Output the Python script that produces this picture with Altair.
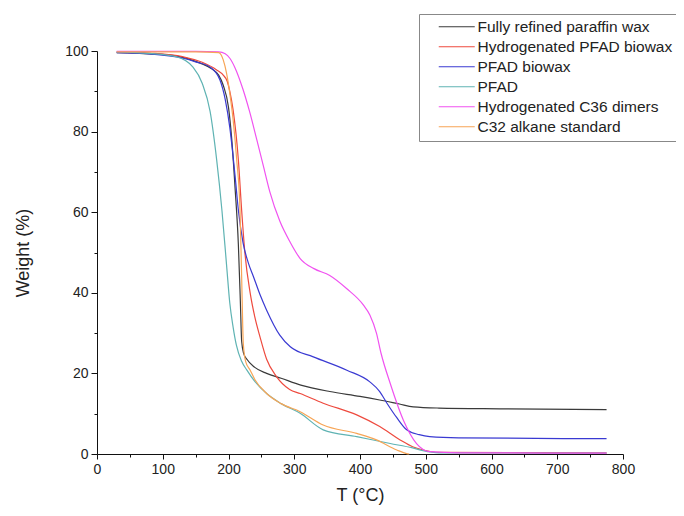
import altair as alt
import pandas as pd

series_names = [
    "Fully refined paraffin wax",
    "Hydrogenated PFAD biowax",
    "PFAD biowax",
    "PFAD",
    "Hydrogenated C36 dimers",
    "C32 alkane standard",
]
series_colors = ["#3a3a3a", "#ee4a3e", "#3a3ad2", "#5fb3b3", "#f052f0", "#f7a556"]

paraffin_T = [30, 80, 120, 157, 175, 185, 192, 200, 205, 210, 215, 218, 220, 223, 228, 240, 258, 280, 310, 354, 400, 430, 460, 481, 520, 613, 775]
paraffin_W = [99.6, 99.3, 98.8, 97, 95.5, 94, 91.5, 86, 78, 66, 52, 38, 28, 25, 23.5, 21.5, 20, 18.8, 17.1, 15.5, 14.3, 13.4, 12.4, 11.7, 11.4, 11.2, 11.0]

hpfad_T = [30, 80, 130, 160, 182, 192, 198, 202, 207, 215, 220, 225, 233, 240, 248, 258, 273, 293, 309, 344, 395, 430, 461, 480, 496, 520, 775]
hpfad_W = [99.8, 99.5, 98.6, 97.2, 95.3, 94, 92.5, 90, 85.4, 73, 60.5, 49.8, 39.9, 34, 29, 23.5, 19.2, 16, 15, 12.6, 9.7, 6.8, 3.5, 1.8, 1, 0.4, 0.3]

biowax_T = [30, 80, 131, 150, 172, 187, 195, 202, 210, 215, 222, 230, 238, 248, 258, 278, 294, 329, 380, 415, 430, 441, 456, 471, 490, 506, 550, 775]
biowax_W = [99.6, 99.3, 98.2, 97.3, 96, 92.8, 88, 81, 69, 60.5, 52.5, 47.5, 44, 39.5, 35.7, 29.5, 26.6, 24.1, 20.8, 17.9, 15.5, 12.6, 9, 6, 4.8, 4.3, 4, 3.8]

pfad_T = [30, 80, 120, 146, 160, 172, 182, 190, 197, 202, 207, 212, 220, 228, 240, 258, 280, 309, 344, 395, 446, 480, 496, 520, 775]
pfad_W = [99.8, 99.4, 98.6, 96, 92, 85, 73, 60.5, 47, 37.4, 31.5, 27, 23, 20.8, 18, 15, 12.5, 10.1, 6, 4.3, 2.6, 1.5, 0.8, 0.3, 0.2]

c36_T = [30, 100, 150, 185, 195, 202, 210, 222, 232, 243, 253, 263, 278, 294, 309, 330, 354, 380, 405, 415, 425, 432, 446, 466, 486, 506, 550, 775]
c36_W = [99.9, 99.9, 99.9, 99.8, 99.3, 98.2, 95.8, 90.5, 85, 78, 71.5, 65, 57.8, 52.5, 48.5, 46, 44.3, 41, 37, 34.5, 30, 25, 17.5, 8.4, 2.6, 0.6, 0.3, 0.2]

c32_T = [30, 100, 150, 185, 192, 197, 202, 207, 212.5, 217.5, 220, 222.5, 226, 233, 240, 258, 280, 309, 344, 395, 425, 456, 471, 475]
c32_W = [99.8, 99.8, 99.8, 99.6, 97.8, 94.5, 89.5, 83, 73, 60.5, 44, 27.5, 23, 20.8, 18.5, 15, 12.5, 10.5, 7.2, 5.1, 3.5, 1, 0.1, 0]

all_T = [paraffin_T, hpfad_T, biowax_T, pfad_T, c36_T, c32_T]
all_W = [paraffin_W, hpfad_W, biowax_W, pfad_W, c36_W, c32_W]

rows = []
for i, (name, ts, ws) in enumerate(zip(series_names, all_T, all_W)):
    for t, w in zip(ts, ws):
        rows.append({"series": name, "order": i, "T": t, "W": w})
df = pd.DataFrame(rows)

FONT = "Liberation Sans"

chart = alt.Chart(df).mark_line(strokeWidth=1.2, interpolate="monotone").encode(
    x=alt.X(
        "T:Q",
        scale=alt.Scale(domain=[0, 800], nice=False, zero=False),
        axis=alt.Axis(
            values=list(range(0, 801, 50)),
            labelExpr="datum.value % 100 === 0 ? datum.label : ''",
            tickSize={"condition": {"test": "datum.value % 100 === 0", "value": 5}, "value": 3},
            title="T (°C)",
            grid=False,
            labelFlush=False,
            labelPadding=3,
            titlePadding=10,
        ),
    ),
    y=alt.Y(
        "W:Q",
        scale=alt.Scale(domain=[0, 100], nice=False),
        axis=alt.Axis(
            values=list(range(0, 101, 10)),
            labelExpr="datum.value % 20 === 0 ? datum.label : ''",
            tickSize={"condition": {"test": "datum.value % 20 === 0", "value": 6}, "value": 3},
            title="Weight (%)",
            grid=False,
            labelFlush=False,
            labelPadding=3,
            titlePadding=32,
        ),
    ),
    color=alt.Color(
        "series:N",
        scale=alt.Scale(domain=series_names, range=series_colors),
        legend=alt.Legend(
            title=None,
            orient="none",
            legendX=322,
            legendY=-37,
            strokeColor="#888888",
            fillColor="white",
            padding=5,
            symbolType="M-3,0H3",
            symbolSize=144,
            symbolStrokeWidth=1,
            symbolOffset=25,
            labelOffset=13,
            labelFontSize=15.5,
            labelFont=FONT,
            labelColor="#222222",
            rowPadding=3,
            labelLimit=400,
        ),
    ),
    order=alt.Order("order:Q"),
).properties(
    width=526,
    height=403,
    autosize=alt.AutoSizeParams(type="none"),
    padding={"left": 89, "top": 43, "right": 53, "bottom": 54},
).configure_view(
    stroke=None
).configure_axis(
    domainColor="#111111",
    tickColor="#111111",
    labelColor="#222222",
    titleColor="#222222",
    labelFont=FONT,
    titleFont=FONT,
    labelFontSize=14,
    titleFontSize=18,
    titleFontWeight="normal",
    domainWidth=1,
    tickWidth=1,
)

chart.save("out.html", embed_options={"renderer": "svg", "actions": False})
